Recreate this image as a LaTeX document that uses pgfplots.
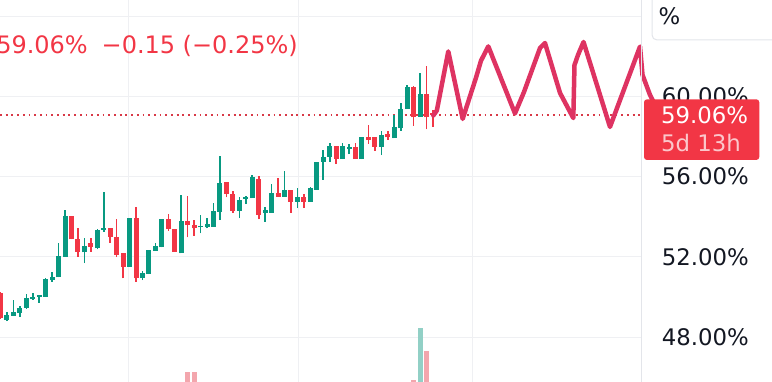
\documentclass[border=0pt]{standalone}
\usepackage{pgfplots}
\pgfplotsset{compat=1.18}
\usepackage{pgfplotstable}
\usepackage{fontspec}
\setmainfont{DejaVu Sans}
\definecolor{upc}{HTML}{089981}
\definecolor{dnc}{HTML}{F23645}
\definecolor{zig}{HTML}{DE3362}
\definecolor{gridc}{HTML}{EFF0F3}
\definecolor{sepc}{HTML}{E3E5EA}
\definecolor{txt}{HTML}{131722}
\definecolor{volup}{HTML}{92D0C6}
\definecolor{voldn}{HTML}{F3A6AD}
\definecolor{dotc}{HTML}{D83A48}

\pgfplotstableread{
x o h l c
1 48.86 49.26 48.81 49.11
2 49.08 49.86 49.06 49.28
3 49.21 49.56 49.01 49.45
4 49.46 50.14 49.41 49.96
5 49.92 50.23 49.88 49.99
6 50.02 50.11 49.71 50.07
7 50.02 50.95 50.01 50.90
8 50.85 51.27 50.77 51.02
9 50.99 52.68 50.99 52.05
10 52.02 54.34 52.00 54.04
13 52.23 52.93 51.69 52.55
15 52.43 53.40 52.38 53.35
16 53.35 55.25 53.25 53.43
20 51.52 53.93 51.52 53.93
22 50.94 51.30 50.85 51.22
23 51.15 52.35 51.15 52.35
24 52.31 52.71 52.30 52.55
25 52.48 53.89 52.48 53.89
28 52.18 55.09 52.18 53.79
31 53.48 54.09 53.18 53.54
32 53.48 53.93 53.43 53.64
33 53.51 54.68 53.51 54.29
34 54.26 57.05 53.84 55.70
37 54.31 54.97 53.93 54.84
38 54.90 55.04 54.63 55.00
39 54.92 56.09 54.92 55.97
41 54.21 54.48 53.76 54.34
42 54.21 55.64 54.21 55.17
44 55.00 56.30 54.99 55.34
46 54.76 55.42 54.43 55.00
48 54.76 55.50 54.76 55.42
49 55.34 56.75 55.34 56.75
50 56.75 57.33 55.84 57.00
51 57.00 57.69 56.75 57.53
53 56.87 57.68 56.87 57.53
54 57.37 57.63 57.13 57.47
56 56.87 57.96 56.87 57.96
59 57.49 58.29 57.08 58.08
61 57.91 59.07 57.91 58.49
62 58.41 59.69 58.29 59.36
63 59.36 60.57 59.36 60.48
65 58.97 61.18 58.97 60.12
}\upcandles

\pgfplotstableread{
x o h l c
0 50.21 50.25 48.93 48.96
11 54.04 54.04 52.88 52.88
12 52.88 53.43 52.02 52.26
14 52.71 52.93 52.26 52.51
17 53.43 53.45 52.71 53.01
18 52.98 53.88 51.99 52.10
19 52.21 52.21 50.94 51.52
21 53.93 54.51 50.77 50.94
26 53.88 54.14 53.31 53.38
27 53.40 53.40 52.26 52.26
29 53.79 55.04 52.98 53.59
30 53.59 53.84 53.05 53.43
35 55.75 55.75 54.97 55.14
36 55.14 55.29 54.18 54.31
40 55.89 56.04 53.88 54.09
43 55.17 55.92 55.00 55.00
45 55.34 55.34 54.21 54.76
47 55.00 55.14 54.43 54.76
52 57.53 57.53 56.63 56.87
55 57.47 57.69 56.87 56.87
57 57.99 58.58 57.63 57.83
58 57.96 57.96 57.30 57.49
60 58.13 58.29 57.83 57.96
64 60.48 60.52 58.53 58.96
66 60.12 61.51 58.36 58.96
67 59.16 59.32 58.49 59.06
}\dncandles

\begin{document}
\begin{tikzpicture}
\useasboundingbox (0,0) rectangle (772bp,382bp);
\clip (0,0) rectangle (772bp,382bp);
\begin{axis}[
  at={(0,0)}, anchor=south west,
  width=641bp, height=382bp, scale only axis,
  xmin=-0.0775, xmax=99.225, ymin=45.773, ymax=64.802,
  axis line style={draw=none},
  xtick=\empty,
  ytick={48,52,56,60,64},
  yticklabels={48.00\%,52.00\%,56.00\%,60.00\%,{}},
  yticklabel pos=right,
  major tick length=0pt,
  ymajorgrids,
  major grid style={draw=gridc, line width=1bp},
  yticklabel style={anchor=west, inner sep=0pt, xshift=20.7bp,
    font=\fontsize{22.8bp}{27bp}\selectfont, text=txt},
  clip=false,
]
% vertical grid lines
\addplot[forget plot, gridc, line width=1bp] coordinates {(19.8,45.773) (19.8,64.802)};
\addplot[forget plot, gridc, line width=1bp] coordinates {(46.09,45.773) (46.09,64.802)};
\addplot[forget plot, gridc, line width=1bp] coordinates {(73.12,45.773) (73.12,64.802)};
% volume
\addplot[forget plot, draw=none, mark=none,
  error bars/.cd, y dir=plus, y explicit, error mark=none,
  error bar style={draw=voldn, line width=5bp}]
  coordinates {(29,45.773) +- (0,0.497) (30,45.773) +- (0,0.497)
               (64,45.773) +- (0,0.107) (66,45.773) +- (0,1.544)};
\addplot[forget plot, draw=none, mark=none,
  error bars/.cd, y dir=plus, y explicit, error mark=none,
  error bar style={draw=volup, line width=5bp}]
  coordinates {(65,45.773) +- (0,2.69)};
% last price line
\addplot[forget plot, dotc, line width=2bp, dash pattern=on 1.8bp off 3.9bp]
  coordinates {(-0.0775,59.06) (99.69,59.06)};
% wicks
\addplot[forget plot, draw=none, mark=none,
  error bars/.cd, y dir=plus, y explicit, error mark=none,
  error bar style={draw=upc, line width=1.6bp}]
  table[x=x, y=l, y error plus expr=\thisrow{h}-\thisrow{l}] {\upcandles};
\addplot[forget plot, draw=none, mark=none,
  error bars/.cd, y dir=plus, y explicit, error mark=none,
  error bar style={draw=dnc, line width=1.6bp}]
  table[x=x, y=l, y error plus expr=\thisrow{h}-\thisrow{l}] {\dncandles};
% bodies
\addplot[forget plot, draw=none, mark=none,
  error bars/.cd, y dir=plus, y explicit, error mark=none,
  error bar style={draw=upc, line width=5bp}]
  table[x=x, y expr={min(\thisrow{o},\thisrow{c})},
        y error plus expr={max(abs(\thisrow{c}-\thisrow{o}),0.07)}] {\upcandles};
\addplot[forget plot, draw=none, mark=none,
  error bars/.cd, y dir=plus, y explicit, error mark=none,
  error bar style={draw=dnc, line width=5bp}]
  table[x=x, y expr={min(\thisrow{o},\thisrow{c})},
        y error plus expr={max(abs(\thisrow{c}-\thisrow{o}),0.07)}] {\dncandles};
% hand drawn zigzag
\addplot[forget plot, zig, line width=4.5bp, line join=round, line cap=round]
  coordinates {(67.05,59.05) (67.6,59.3) (69.37,62.24) (71.6,58.88) (73.66,60.93)
  (74.44,61.78) (75.57,62.49) (79.7,59.15) (81.1,60.22) (83.58,62.41) (84.35,62.66)
  (86.68,60.17) (88.74,58.92) (88.92,61.56) (89.46,62.06) (90.32,62.71) (94.42,58.48)
  (99.07,62.48) (99.46,61.07) (100.62,60.07) (101.4,59.57)};
\end{axis}
\begin{scope}[yshift=382bp, x=1bp, y=-1bp]
  \draw[sepc, line width=1bp] (641,0) -- (641,382);
  % percent box
  \draw[sepc, fill=white, line width=1bp, rounded corners=5bp] (652,-10) rectangle (790,40);
  \node[anchor=west, inner sep=0pt, text=txt, font=\fontsize{22.8bp}{27bp}\selectfont] at (658.5,16.5) {\%};
  % price label
  \fill[dnc, rounded corners=3bp] (644,99.3) rectangle (759.3,160);
  \node[anchor=west, inner sep=0pt, text=white, font=\fontsize{22.8bp}{27bp}\selectfont] at (661,115) {59.06\%};
  \node[anchor=west, inner sep=0pt, text=white, text opacity=0.72, font=\fontsize{22.8bp}{27bp}\selectfont] at (661,143) {5d 13h};
  % header text
  \node[anchor=base east, inner sep=0pt, text=dnc, font=\fontsize{24bp}{28bp}\selectfont] at (88,53.5) {59.06\%};
  \node[anchor=base west, inner sep=0pt, text=dnc, font=\fontsize{24bp}{28bp}\selectfont] at (101.5,53.5) {−0.15};
  \node[anchor=base west, inner sep=0pt, text=dnc, font=\fontsize{24bp}{28bp}\selectfont] at (182.5,53.5) {(−0.25\%)};
\end{scope}
\end{tikzpicture}
\end{document}
